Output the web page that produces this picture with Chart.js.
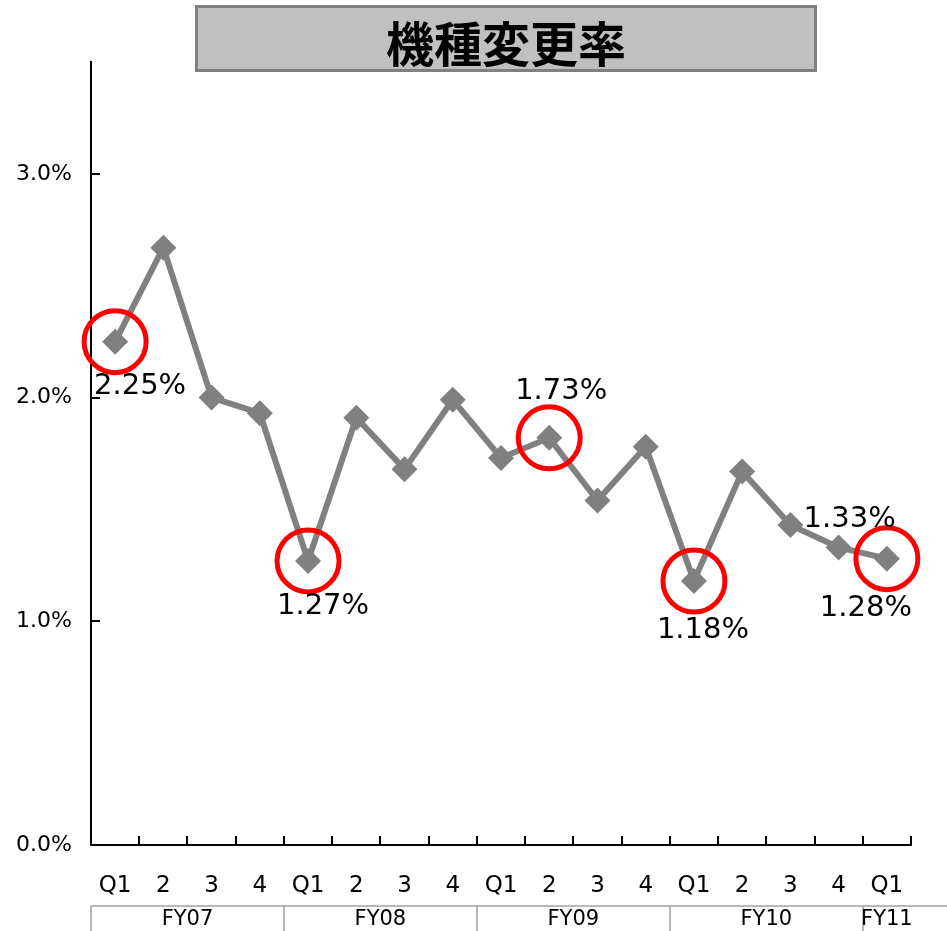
<!DOCTYPE html>
<html>
<head>
<meta charset="utf-8">
<script src="https://cdn.jsdelivr.net/npm/chart.js@4.4.1/dist/chart.umd.min.js"></script>
<style>
    html, body { margin: 0; padding: 0; background: #ffffff; }
    #wrap { width: 947px; height: 931px; position: relative; }
</style>
</head>
<body>
<div id="wrap"><canvas id="churnChart" width="947" height="931"></canvas></div>
<script>
// Quarter labels and fiscal year groups
const quarters = ['Q1', '2', '3', '4', 'Q1', '2', '3', '4', 'Q1', '2', '3', '4', 'Q1', '2', '3', '4', 'Q1'];
const fiscalYears = ['FY07', 'FY08', 'FY09', 'FY10', 'FY11'];
const fiscalYearSizes = [4, 4, 4, 4, 1];

// Rate (%) per quarter
const changeRate = [2.25, 2.67, 2.00, 1.93, 1.27, 1.91, 1.68, 1.99, 1.73, 1.82, 1.54, 1.78, 1.18, 1.67, 1.43, 1.33, 1.28];

// Highlighted points and their annotation texts
const circledIdx = [0, 4, 9, 12, 16];
const noteIdx = [0, 4, 9, 12, 15, 16];
const noteText = ['2.25%', '1.27%', '1.73%', '1.18%', '1.33%', '1.28%'];

const yTicks = [0, 1, 2, 3];

const chartTitle = '機種変更率';

// label offsets from the point (drawing only)
const noteOffsets = [[25, 45], [15, 46], [12, -46], [9, 49], [11, -28], [-21, 50]];

const circleData = changeRate.map((v, i) => circledIdx.includes(i) ? v : null);

const decorPlugin = {
    id: 'decor',
    afterDraw(chart) {
        const ctx = chart.ctx;
        const x = chart.scales.x;
        const y = chart.scales.y;
        const area = chart.chartArea;
        const half = (x.getPixelForValue(1) - x.getPixelForValue(0)) / 2;

        ctx.save();
        // title box
        ctx.fillStyle = '#c0c0c0';
        ctx.fillRect(195, 5, 622, 67);
        ctx.strokeStyle = '#808080';
        ctx.lineWidth = 3;
        ctx.strokeRect(196.5, 6.5, 619, 64);
        ctx.fillStyle = '#000000';
        ctx.font = 'bold 48px "Noto Sans CJK JP"';
        ctx.textAlign = 'center';
        ctx.textBaseline = 'middle';
        ctx.fillText(chartTitle, 506, 44);

        // inner tick marks on x axis (category boundaries)
        ctx.strokeStyle = '#000000';
        ctx.lineWidth = 2;
        for (let i = 1; i <= quarters.length; i++) {
            const px = Math.round(x.getPixelForValue(i - 1) + half);
            ctx.beginPath();
            ctx.moveTo(px, area.bottom);
            ctx.lineTo(px, area.bottom - 9);
            ctx.stroke();
        }
        // inner tick marks on y axis
        yTicks.forEach(v => {
            const py = Math.round(y.getPixelForValue(v));
            ctx.beginPath();
            ctx.moveTo(area.left, py);
            ctx.lineTo(area.left + 9, py);
            ctx.stroke();
        });

        // fiscal year row
        const rowTop = 906;
        ctx.strokeStyle = '#a0a0a0';
        ctx.lineWidth = 1.5;
        ctx.beginPath();
        ctx.moveTo(area.left, rowTop);
        ctx.lineTo(947, rowTop);
        ctx.stroke();
        ctx.font = '21px "DejaVu Sans"';
        ctx.fillStyle = '#000000';
        let start = 0;
        fiscalYears.forEach((fy, g) => {
            const left = x.getPixelForValue(start) - half;
            const right = x.getPixelForValue(start + fiscalYearSizes[g] - 1) + half;
            ctx.beginPath();
            ctx.moveTo(Math.round(left), rowTop);
            ctx.lineTo(Math.round(left), 931);
            ctx.stroke();
            ctx.fillText(fy, (left + right) / 2, 920);
            start += fiscalYearSizes[g];
        });

        // value notes
        const meta = chart.getDatasetMeta(0);
        ctx.font = '29px "DejaVu Sans"';
        noteIdx.forEach((idx, k) => {
            const pt = meta.data[idx];
            ctx.fillText(noteText[k], pt.x + noteOffsets[k][0], pt.y + noteOffsets[k][1]);
        });
        ctx.restore();
    }
};

new Chart(document.getElementById('churnChart'), {
    type: 'line',
    data: {
        labels: quarters,
        datasets: [{
            label: chartTitle,
            data: changeRate,
            borderColor: '#808080',
            backgroundColor: '#808080',
            borderWidth: 6,
            pointStyle: 'rectRot',
            pointRadius: 13,
            pointBorderWidth: 0,
            tension: 0,
            order: 2
        }, {
            label: 'circles',
            data: circleData,
            showLine: false,
            pointStyle: 'circle',
            pointRadius: 31,
            pointBorderWidth: 5,
            pointBorderColor: '#ff0000',
            pointBackgroundColor: 'rgba(0,0,0,0)',
            order: 1
        }]
    },
    options: {
        responsive: false,
        animation: false,
        devicePixelRatio: 1,
        layout: {
            padding: { top: 62, right: 34, left: 0, bottom: 0 }
        },
        plugins: {
            legend: { display: false },
            title: { display: false },
            tooltip: { enabled: false }
        },
        scales: {
            x: {
                offset: true,
                grid: { display: false, drawTicks: false },
                border: { color: '#000000', width: 2 },
                ticks: {
                    color: '#000000',
                    font: { family: 'DejaVu Sans', size: 23 },
                    padding: 27,
                    maxRotation: 0,
                    autoSkip: false
                },
                afterFit(scale) { scale.height = 86; }
            },
            y: {
                min: 0,
                max: 3.5,
                grid: { display: false, drawTicks: false },
                border: { color: '#000000', width: 2 },
                ticks: {
                    stepSize: 1,
                    color: '#000000',
                    padding: 19,
                    font: { family: 'DejaVu Sans', size: 22 },
                    callback: function(v) {
                        return yTicks.includes(v) ? v.toFixed(1) + '%' : '';
                    }
                },
                afterFit(scale) { scale.width = 91; }
            }
        }
    },
    plugins: [decorPlugin]
});
</script>
</body>
</html>
